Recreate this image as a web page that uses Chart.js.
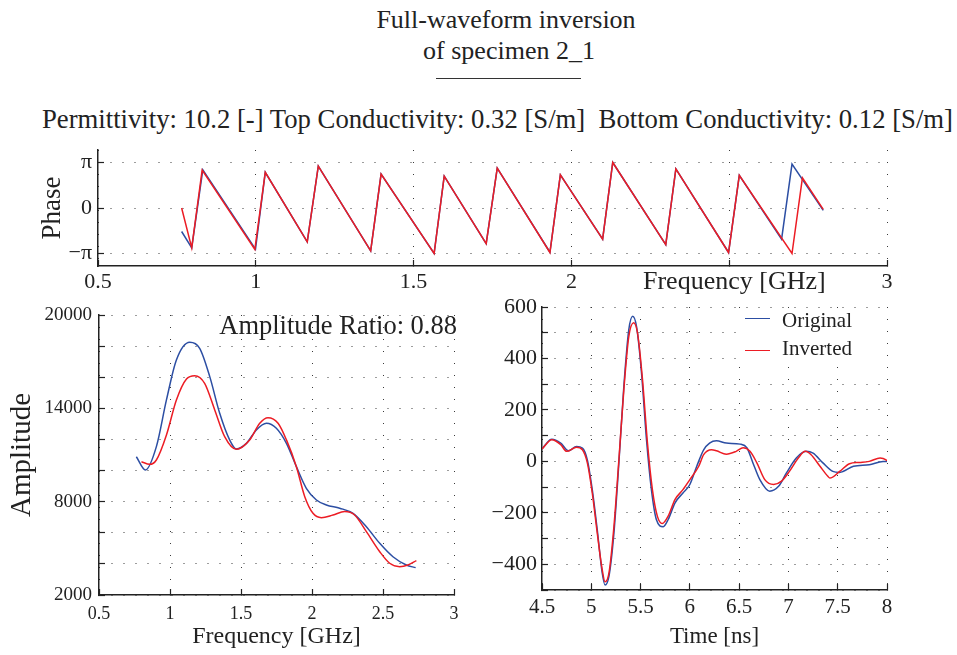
<!DOCTYPE html>
<html>
<head>
<meta charset="utf-8">
<title>Full-waveform inversion of specimen 2_1</title>
<script src="https://cdn.jsdelivr.net/npm/chart.js@4.4.1/dist/chart.umd.min.js"></script>
<style>
  html, body { margin: 0; padding: 0; background: #fff; }
  body { width: 957px; height: 655px; position: relative; overflow: hidden;
         font-family: 'Liberation Serif', 'Times New Roman', serif; color: #222; }
  .txt { position: absolute; white-space: pre; line-height: 1; }
  .box { position: absolute; }
  .legend { position: absolute; left: 738px; top: 309px; width: 146px; height: 55px; background: #fff; }
  .legend .key { position: absolute; left: 7px; width: 25px; height: 0; border-top: 1.5px solid; }
  .legend .lbl { position: absolute; left: 44px; font-size: 21px; line-height: 1; }
</style>
</head>
<body>
<div class="txt" style="left:506px; top:7px; font-size:26px; transform:translateX(-50%);">Full-waveform inversion</div>
<div class="txt" style="left:509px; top:38px; font-size:26px; transform:translateX(-50%);">of specimen 2_1</div>
<div class="box" style="left:436px; top:78px; width:145px; border-top:1px solid #333;"></div>
<div class="txt" style="left:42px; top:106px; font-size:26.7px;">Permittivity: 10.2 [-] Top Conductivity: 0.32 [S/m]  Bottom Conductivity: 0.12 [S/m]</div>

<div class="box" style="left:0; top:124px; width:957px; height:176px;"><canvas id="phaseChart"></canvas></div>
<div class="txt" style="left:643px; top:268px; font-size:26px;">Frequency [GHz]</div>

<div class="box" style="left:0; top:290px; width:473px; height:365px;"><canvas id="ampChart"></canvas></div>
<div class="txt" style="right:500px; top:312px; font-size:26.5px;">Amplitude Ratio: 0.88</div>

<div class="box" style="left:470px; top:282px; width:487px; height:373px;"><canvas id="timeChart"></canvas></div>
<div class="legend">
  <div class="key" style="top:9px; border-color:#2c4ea3;"></div>
  <div class="lbl" style="top:1px;">Original</div>
  <div class="key" style="top:41px; border-color:#ec1c24;"></div>
  <div class="lbl" style="top:29px;">Inverted</div>
</div>

<script>
(function () {
  'use strict';

  // phase spectrum [rad] vs frequency [GHz]
  var phaseFreqOriginal = [0.765, 0.797, 0.832, 0.999, 1.030, 1.163, 1.198, 1.364, 1.397, 1.565, 1.597, 1.730,
    1.765, 1.932, 1.965, 2.099, 2.131, 2.299, 2.331, 2.498, 2.532, 2.666, 2.699, 2.798];
  var phaseOriginal = [-1.62, -2.75, 2.63, -2.84, 2.46, -2.33, 2.89, -2.95, 2.34, -3.14, 2.20, -2.45,
    2.75, -3.05, 2.29, -2.15, 3.14, -2.52, 2.70, -3.07, 2.25, -2.15, 3.03, -0.16];
  var phaseFreqInverted = [0.765, 0.797, 0.830, 0.997, 1.030, 1.163, 1.198, 1.364, 1.397, 1.565, 1.597, 1.730,
    1.765, 1.932, 1.965, 2.099, 2.131, 2.299, 2.331, 2.498, 2.532, 2.699, 2.732, 2.798];
  var phaseInverted = [0.0, -2.75, 2.61, -2.86, 2.46, -2.33, 2.89, -2.95, 2.34, -3.14, 2.20, -2.45,
    2.75, -3.07, 2.29, -2.15, 3.14, -2.52, 2.70, -3.07, 2.25, -3.14, 2.08, -0.10];
  var phaseTicks = [-Math.PI, 0, Math.PI];
  var phaseTickLabels = ['\u2212\u03c0', '0', '\u03c0'];

  // amplitude spectrum vs frequency [GHz]
  var ampFreqOriginal = [0.763, 0.827, 0.904, 0.975, 1.045, 1.139, 1.209, 1.280, 1.350, 1.420, 1.467, 1.538,
    1.608, 1.679, 1.749, 1.820, 1.890, 1.960, 2.031, 2.101, 2.195, 2.289, 2.383, 2.477, 2.570, 2.664, 2.730];
  var ampOriginal = [10890, 10040, 11540, 14540, 17110, 18250, 17860, 16040, 13680, 11970, 11390, 11750,
    12610, 13040, 12720, 11750, 10250, 8860, 8110, 7790, 7580, 7250, 6390, 5320, 4460, 3930, 3760];
  var ampFreqInverted = [0.799, 0.857, 0.904, 0.975, 1.045, 1.116, 1.174, 1.244, 1.315, 1.385, 1.467, 1.561,
    1.632, 1.690, 1.761, 1.820, 1.890, 1.949, 2.007, 2.066, 2.148, 2.230, 2.300, 2.383, 2.477, 2.547, 2.617,
    2.676, 2.735];
  var ampInverted = [10570, 10400, 10680, 12290, 14540, 15890, 16100, 15610, 13900, 12180, 11370, 11970,
    13040, 13400, 13040, 11970, 10250, 8320, 7250, 6970, 7140, 7360, 7140, 6070, 4780, 4040, 3820, 3930, 4210];

  // time-domain trace vs time [ns]
  var timeOriginal = [4.50, 4.58, 4.60, 4.69, 4.77, 4.85, 4.91, 4.96, 5.01, 5.06, 5.11, 5.14, 5.18, 5.23,
    5.28, 5.33, 5.38, 5.42, 5.46, 5.51, 5.56, 5.61, 5.66, 5.73, 5.78, 5.85, 5.93, 6.00, 6.07, 6.14, 6.20,
    6.27, 6.37, 6.51, 6.58, 6.64, 6.71, 6.81, 6.90, 6.98, 7.08, 7.18, 7.25, 7.35, 7.45, 7.52, 7.66, 7.82,
    7.96, 8.00];
  var traceOriginal = [48, 84, 86, 71, 41, 58, 52, 6, -110, -264, -432, -481, -445, -277, -6, 290, 510,
    564, 522, 342, 84, -110, -226, -254, -226, -161, -123, -90, -19, 45, 71, 80, 71, 67, 52, -6, -71, -116,
    -97, -45, 13, 39, 32, -6, -39, -43, -19, -13, -1, -1];
  var timeInverted = [4.50, 4.60, 4.69, 4.75, 4.85, 4.91, 4.96, 5.01, 5.06, 5.11, 5.14, 5.18, 5.23, 5.28,
    5.33, 5.38, 5.43, 5.47, 5.52, 5.57, 5.62, 5.67, 5.72, 5.78, 5.85, 5.93, 6.00, 6.09, 6.14, 6.22, 6.27,
    6.37, 6.47, 6.54, 6.61, 6.68, 6.76, 6.85, 6.93, 7.01, 7.10, 7.17, 7.23, 7.32, 7.40, 7.42, 7.52, 7.62,
    7.72, 7.82, 7.93, 7.99, 8.00];
  var traceInverted = [48, 84, 65, 39, 55, 45, -6, -123, -277, -419, -468, -432, -252, 6, 277, 484, 539,
    497, 316, 71, -110, -213, -242, -213, -148, -110, -71, -19, 26, 45, 41, 28, 39, 53, 39, -6, -71, -90,
    -77, -39, 13, 39, 26, -19, -58, -65, -39, -9, -4, 0, 13, 6, 2];

  var BLUE = '#2c4ea3';
  var RED = '#ec1c24';
  var INK = '#222';

  Chart.defaults.font.family = "'Liberation Serif', 'Times New Roman', serif";
  Chart.defaults.color = INK;

  function pairs(xs, ys) {
    var out = [];
    for (var i = 0; i < xs.length; i++) {
      out.push({ x: xs[i], y: ys[i] });
    }
    return out;
  }

  // inverted curve is drawn on top of the original (lower order = on top)
  function line(label, xs, ys, color, smooth, order) {
    return {
      label: label,
      data: pairs(xs, ys),
      borderColor: color,
      backgroundColor: color,
      borderWidth: 1.5,
      pointRadius: 0,
      fill: false,
      order: order,
      tension: smooth ? 0.4 : 0,
      cubicInterpolationMode: smooth ? 'monotone' : 'default'
    };
  }

  function plain(v) {
    return String(Math.round(v * 10) / 10);
  }

  function grid() {
    return { color: '#3a3a3a', lineWidth: 1, drawTicks: true, tickLength: -6, tickColor: INK, tickWidth: 1.2 };
  }

  function border() {
    return { color: INK, width: 1.5, dash: [1, 11] };
  }

  function fixedWidth(w) {
    return function (scale) { scale.width = w; };
  }

  function fixedHeight(h) {
    return function (scale) { scale.height = h; };
  }

  function baseOptions(padding) {
    return {
      responsive: true,
      maintainAspectRatio: false,
      animation: false,
      layout: { padding: padding },
      plugins: { legend: { display: false }, tooltip: { enabled: false }, title: { display: false } },
      scales: {}
    };
  }

  // phase
  var phaseOpts = baseOptions({ left: 0, top: 26, right: 70, bottom: 0 });
  phaseOpts.scales.x = {
    type: 'linear', min: 0.5, max: 3,
    afterFit: fixedHeight(34),
    grid: grid(), border: border(),
    ticks: {
      stepSize: 0.5, autoSkip: false, maxRotation: 0, padding: 9, font: { size: 22 },
      callback: function (v) { return v === 2.5 ? '' : plain(v); }
    }
  };
  phaseOpts.scales.y = {
    type: 'linear', min: -4, max: 4,
    afterFit: fixedWidth(98),
    afterBuildTicks: function (scale) {
      scale.ticks = phaseTicks.map(function (v) { return { value: v }; });
    },
    grid: grid(), border: border(),
    ticks: {
      padding: 12, font: { size: 22 },
      callback: function (v, i) { return phaseTickLabels[i]; }
    },
    title: { display: true, text: 'Phase', font: { size: 27 }, padding: { top: 37 } }
  };
  new Chart(document.getElementById('phaseChart'), {
    type: 'line',
    data: { datasets: [
      line('Original', phaseFreqOriginal, phaseOriginal, BLUE, false, 1),
      line('Inverted', phaseFreqInverted, phaseInverted, RED, false, 0)
    ] },
    options: phaseOpts
  });

  // amplitude
  var ampOpts = baseOptions({ left: 0, top: 25, right: 19, bottom: 0 });
  ampOpts.scales.x = {
    type: 'linear', min: 0.5, max: 3,
    afterFit: fixedHeight(60),
    grid: grid(), border: border(),
    ticks: { stepSize: 0.5, autoSkip: false, maxRotation: 0, padding: 14, font: { size: 18 }, callback: plain },
    title: { display: true, text: 'Frequency [GHz]', font: { size: 24 }, padding: { top: 0, bottom: 4 } }
  };
  ampOpts.scales.y = {
    type: 'linear', min: 2000, max: 20000,
    afterFit: fixedWidth(99),
    grid: grid(), border: border(),
    ticks: {
      stepSize: 2000, autoSkip: false, padding: 13, font: { size: 19 },
      callback: function (v) { return (v - 2000) % 6000 === 0 ? String(v) : ''; }
    },
    title: { display: true, text: 'Amplitude', font: { size: 29 }, padding: { top: 5 } }
  };
  new Chart(document.getElementById('ampChart'), {
    type: 'line',
    data: { datasets: [
      line('Original', ampFreqOriginal, ampOriginal, BLUE, true, 1),
      line('Inverted', ampFreqInverted, ampInverted, RED, true, 0)
    ] },
    options: ampOpts
  });

  // time trace
  var timeOpts = baseOptions({ left: 0, top: 25, right: 70, bottom: 0 });
  timeOpts.scales.x = {
    type: 'linear', min: 4.5, max: 8,
    afterFit: fixedHeight(65),
    grid: grid(), border: border(),
    ticks: { stepSize: 0.5, autoSkip: false, maxRotation: 0, padding: 11, font: { size: 21 }, callback: plain },
    title: { display: true, text: 'Time [ns]', font: { size: 23 }, padding: { top: 0, bottom: 4 } }
  };
  timeOpts.scales.y = {
    type: 'linear', min: -500, max: 600,
    afterFit: fixedWidth(72),
    grid: grid(), border: border(),
    ticks: {
      stepSize: 100, autoSkip: false, padding: 11, font: { size: 22 },
      callback: function (v) {
        if (v % 200 !== 0) {
          return '';
        }
        return v < 0 ? '\u2212' + Math.abs(v) : String(v);
      }
    }
  };
  new Chart(document.getElementById('timeChart'), {
    type: 'line',
    data: { datasets: [
      line('Original', timeOriginal, traceOriginal, BLUE, true, 1),
      line('Inverted', timeInverted, traceInverted, RED, true, 0)
    ] },
    options: timeOpts
  });
}());
</script>
</body>
</html>
